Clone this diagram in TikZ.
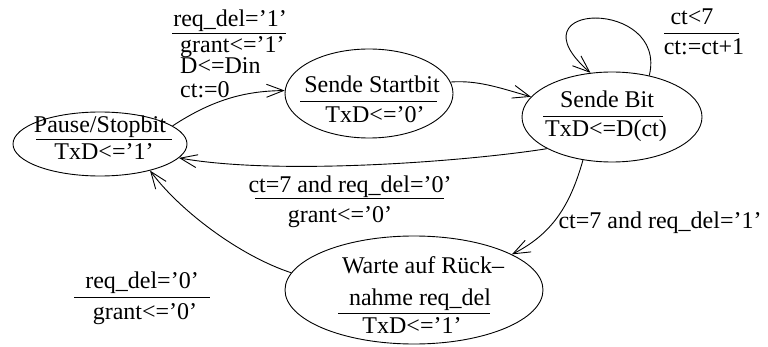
\documentclass[tikz,border=0pt]{standalone}
\usepackage{fontspec}
\setmainfont{Liberation Serif}
\usetikzlibrary{arrows.meta,shapes.geometric}
\begin{document}
\begin{tikzpicture}[x=1pt,y=1pt,
  font=\fontsize{24}{26}\selectfont,
  state/.style={draw, ellipse, line width=0.9pt, inner sep=0pt},
  txt/.style={inner sep=0pt, anchor=base},
  txtw/.style={inner sep=0pt, anchor=base west},
  arr/.style={line width=0.9pt, -{Straight Barb[length=17pt,width=13pt,line width=0.9pt]}},
  bar/.style={line width=0.9pt}]
\useasboundingbox (0,0) rectangle (768,346);

% states
\node[state, minimum width=174pt, minimum height=64pt] (pause) at (100,202) {};
\node[state, minimum width=168pt, minimum height=89pt] (start) at (369,252.5) {};
\node[state, minimum width=180pt, minimum height=90pt] (bit) at (612,229) {};
\node[state, minimum width=258pt, minimum height=108pt] (warte) at (414,56) {};

% state texts
\node[txt] (p1) at (100,214) {Pause/Stopbit};
\node[txt] (p2) at (104,186) {TxD<='1'};
\draw[bar] (36,207) -- (172,207);

\node[txt] (s1) at (372,253) {Sende Startbit};
\node[txt] (s2) at (375,223) {TxD<='0'};
\draw[bar] (300,245) -- (437,245);

\node[txt] (b1) at (607,238) {Sende Bit};
\node[txt] (b2) at (606,209) {TxD<=D(ct)};
\draw[bar] (543,230) -- (663,230);

\node[txt] (w1) at (423,73) {Warte auf Rück--};
\node[txt] (w2) at (420,41) {nahme req\_del};
\node[txt] (w3) at (412,13) {TxD<='1'};
\draw[bar] (338,33) -- (490,33);

% transition labels
\node[txt] (l1a) at (230,319) {req\_del='1'};
\draw[bar] (172,313) -- (286,313);
\node[txtw] (l1b) at (180,293) {grant<='1'};
\node[txtw] (l1c) at (180,272) {D<=Din};
\node[txtw] (l1d) at (180,248) {ct:=0};

\node[txt] (l2a) at (692,321) {ct<7};
\draw[bar] (664,313) -- (739,313);
\node[txt] (l2b) at (704,291) {ct:=ct+1};

\node[txt] (l3a) at (350,154) {ct=7 and req\_del='0'};
\draw[bar] (255,148) -- (444,148);
\node[txt] (l3b) at (340,124) {grant<='0'};

\node[txt] (l4) at (660,118) {ct=7 and req\_del='1'};

\node[txt] (l5a) at (142,58) {req\_del='0'};
\draw[bar] (74,49) -- (210,49);
\node[txt] (l5b) at (145,27) {grant<='0'};

% transitions
\draw[arr] (pause.14) .. controls (215,248) and (248,255) .. (start.178);
\draw[arr] (start.8) .. controls (478,266) and (500,258) .. (bit.166);
\draw[arr] (bit.206) .. controls (470,185) and (280,170) .. (pause.-10);
\draw[arr] (bit.48) .. controls (668,348) and (508,345) .. (bit.116);
\draw[arr] (bit.236) .. controls (570,140) and (552,112) .. (warte.20);
\draw[arr] (warte.172) .. controls (240,90) and (180,135) .. (pause.-28);
\end{tikzpicture}
\end{document}
